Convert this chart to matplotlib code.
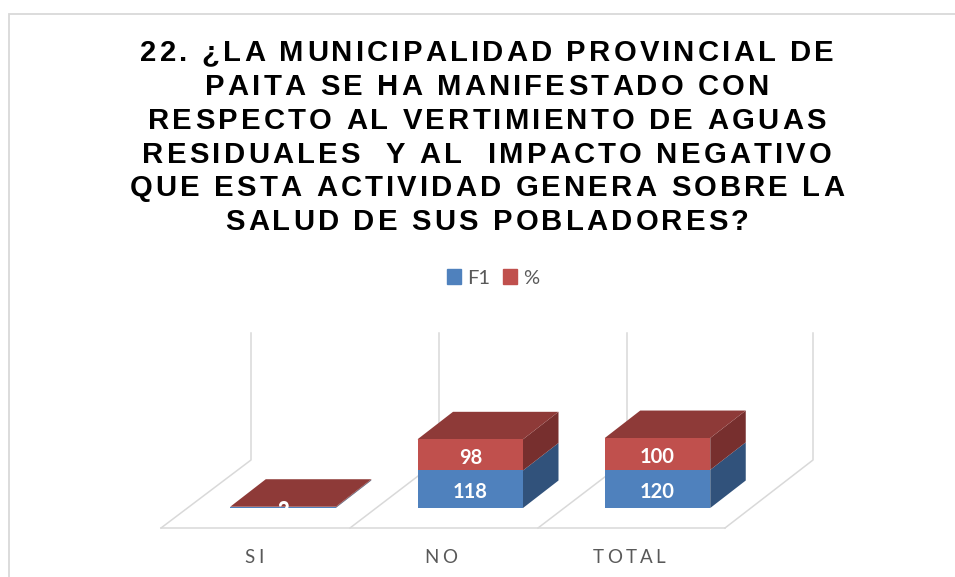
import matplotlib
matplotlib.use("Agg")
import matplotlib.pyplot as plt
from matplotlib.font_manager import FontProperties, findfont, get_font
from matplotlib.ft2font import LoadFlags
from matplotlib.patches import Polygon, Patch
from matplotlib.text import Text
from matplotlib.transforms import Bbox, IdentityTransform

categories = ["SI", "NO", "TOTAL"]
f1_values = [2, 118, 120]
pct_values = [2, 98, 100]
series_names = ["F1", "%"]
title_lines = [
    "22. ¿LA MUNICIPALIDAD PROVINCIAL DE",
    "PAITA SE HA MANIFESTADO CON",
    "RESPECTO AL VERTIMIENTO DE AGUAS",
    "RESIDUALES  Y AL  IMPACTO NEGATIVO",
    "QUE ESTA ACTIVIDAD GENERA SOBRE LA",
    "SALUD DE SUS POBLADORES?",
]

W, H = 955, 577
BLUE, BLUE_SIDE = "#4F81BD", "#31527B"
RED, RED_SIDE, RED_TOP = "#C0504D", "#772F2E", "#8E3A38"
GRID = "#D9D9D9"
TICK = "#595959"


class SpacedText(Text):
    """One string drawn with extra tracking between its characters."""

    def __init__(self, x, y, text, spacing=0, **kw):
        super().__init__(x, y, text, **kw)
        self.spacing = spacing

    def _advances(self):
        fp = self.get_fontproperties()
        font = get_font(findfont(fp))
        font.set_size(fp.get_size_in_points(), self.get_figure().dpi)
        out = []
        for ch in self.get_text():
            glyph = font.load_char(ord(ch), flags=LoadFlags.NO_HINTING)
            out.append(glyph.linearHoriAdvance / 65536 + self.spacing)
        return out

    def _start(self):
        adv = self._advances()
        total = sum(adv) - self.spacing
        x, y = self.get_transform().transform(self.get_unitless_position())
        return x - total / 2, y, adv, total

    def get_window_extent(self, renderer=None, dpi=None):
        x, y, _, total = self._start()
        size = self.get_fontproperties().get_size_in_points() * self.get_figure().dpi / 72
        return Bbox.from_extents(x, y - 0.2 * size, x + total, y + 0.75 * size)

    def draw(self, renderer):
        x, y, adv, _ = self._start()
        for ch, a in zip(self.get_text(), adv):
            if ch != " ":
                t = Text(x, y, ch, fontproperties=self.get_fontproperties(),
                         color=self.get_color(), ha="left", va="baseline",
                         transform=IdentityTransform())
                t.set_figure(self.get_figure())
                t.draw(renderer)
            x += a
        self.stale = False


fig = plt.figure(figsize=(W / 100, H / 100), dpi=100, facecolor="white")

# Pixel-scaled layer: frame, walls, floor, text
bg = fig.add_axes([0, 0, 1, 1], zorder=0)
bg.set_xlim(0, W)
bg.set_ylim(H, 0)
bg.axis("off")

bg.plot([8.5, 8.5, W], [H, 13.5, 13.5], color=GRID, lw=1.3, solid_joinstyle="miter")
for back, front in zip([251, 439, 627, 813], [161, 350, 538, 725]):
    bg.plot([back, back, front], [333, 460, 528], color=GRID, lw=1.1)
bg.plot([161, 725], [528, 528], color=GRID, lw=1.1)

title_font = FontProperties(family="Liberation Sans", weight="bold", size=21.1)
for i, line in enumerate(title_lines):
    t = SpacedText(487, 61.3 + i * 33.75, line, spacing=3.2, fontproperties=title_font,
                   color="black", transform=bg.transData, ha="center")
    bg.add_artist(t)

tick_font = FontProperties(family="Lato", size=13.5)
for name, cx in zip(categories, [254, 441, 629]):
    t = SpacedText(cx, 563, name, spacing=3.2, fontproperties=tick_font, color=TICK,
                   transform=bg.transData, ha="center")
    bg.add_artist(t)

handles = [Patch(color=BLUE, label=series_names[0]), Patch(color=RED, label=series_names[1])]
bg.legend(handles=handles, ncols=2, loc="center", bbox_to_anchor=(493.3 / W, 1 - 278 / H),
          frameon=False, prop=FontProperties(family="Lato", size=14.5), labelcolor=TICK,
          handlelength=0.7, handleheight=0.7, handletextpad=0.32, columnspacing=0.62,
          borderpad=0, borderaxespad=0)

# Data layer: x in category units, y in value units, baseline at pixel row 508
PX_X, PX_Y = 187.25, 0.318
ax = fig.add_axes([0, 0, 1, 1], zorder=1)
ax.patch.set_alpha(0)
ax.axis("off")
ax.set_xlim(-283 / PX_X, (W - 283) / PX_X)
ax.set_ylim(-(H - 508) / PX_Y, 508 / PX_Y)

xs = list(range(len(categories)))
bar_w = 105.5 / PX_X
dx, dy = 35.5 / PX_X, 27.5 / PX_Y

ax.bar(xs, f1_values, width=bar_w, color=BLUE, linewidth=0, zorder=3)
ax.bar(xs, pct_values, width=bar_w, bottom=f1_values, color=RED, linewidth=0, zorder=3)

label_font = FontProperties(family="Lato", weight="bold", size=14.5)
for x, f, p in zip(xs, f1_values, pct_values):
    r = x + bar_w / 2
    l = x - bar_w / 2
    top = f + p
    ax.add_patch(Polygon([(r, 0), (r + dx, dy), (r + dx, f + dy), (r, f)],
                         facecolor=BLUE_SIDE, lw=0, zorder=2))
    ax.add_patch(Polygon([(r, f), (r + dx, f + dy), (r + dx, top + dy), (r, top)],
                         facecolor=RED_SIDE, lw=0, zorder=2))
    ax.add_patch(Polygon([(l, top), (r, top), (r + dx, top + dy), (l + dx, top + dy)],
                         facecolor=RED_TOP, lw=0, zorder=2))
    for val, yc in ((f, f / 2), (p, f + p / 2)):
        ax.annotate(str(val), (x, yc), xytext=(0, -2.2), textcoords="offset points",
                    color="white", ha="center", va="center",
                    fontproperties=label_font, zorder=4)

fig.savefig("out.png", dpi=100, facecolor="white")
